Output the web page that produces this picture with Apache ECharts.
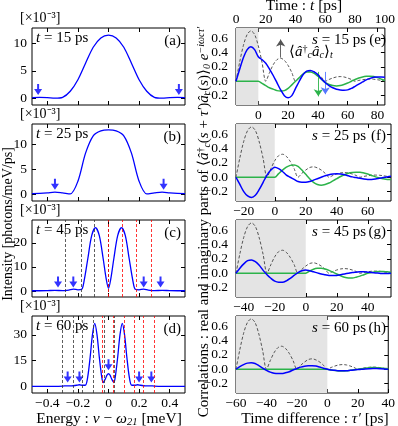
<!DOCTYPE html>
<html>
<head>
<meta charset="utf-8">
<script src="https://cdn.jsdelivr.net/npm/echarts@6/dist/echarts.min.js"></script>
<style>
  html, body { margin: 0; padding: 0; background: #fff; }
  #chart { width: 398px; height: 426px; }
</style>
</head>
<body>
<div id="chart"></div>
<script>
// ---------- spectra (left column), energy in meV, intensity in 1e-3 photons/meV/ps ----------
var energyA = [-0.5, -0.45, -0.4, -0.35, -0.3, -0.25, -0.2, -0.15, -0.1, -0.05, 0, 0.05, 0.1, 0.15, 0.2, 0.25, 0.3, 0.35, 0.4, 0.45, 0.5];
var intensA = [0.15, 0.2, 0.15, 0.05, 0.2, 1.3, 3.4, 6.4, 9.3, 11.0, 11.5, 11.0, 9.3, 6.4, 3.4, 1.3, 0.2, 0.05, 0.15, 0.2, 0.15];

var energyB = [-0.5, -0.45, -0.4, -0.35, -0.3, -0.25, -0.2, -0.15, -0.1, -0.05, 0, 0.05, 0.1, 0.15, 0.2, 0.25, 0.3, 0.35, 0.4, 0.45, 0.5];
var intensB = [0.1, 0.15, 0.25, 0.4, 0.25, 0.05, 2.6, 8.3, 11.8, 12.8, 13.0, 12.8, 11.8, 8.3, 2.6, 0.05, 0.25, 0.4, 0.25, 0.15, 0.1];

var energyC = [-0.5, -0.45, -0.4, -0.35, -0.3, -0.26, -0.23, -0.2, -0.175, -0.16, -0.135, -0.11, -0.085, -0.06, -0.035, -0.015, 0,
               0.015, 0.035, 0.06, 0.085, 0.11, 0.135, 0.16, 0.175, 0.2, 0.23, 0.26, 0.3, 0.35, 0.4, 0.45, 0.5];
var intensC = [0.1, 0.1, 0.15, 0.25, 0.15, 0.4, 0.8, 0.5, 0.7, 4, 13.5, 23, 26.3, 23, 13.5, 5, 1.1,
               5, 13.5, 23, 26.3, 23, 13.5, 4, 0.7, 0.5, 0.8, 0.4, 0.15, 0.25, 0.15, 0.1, 0.1];

var energyD = [-0.5, -0.45, -0.4, -0.35, -0.3, -0.27, -0.24, -0.21, -0.19, -0.17, -0.15, -0.135, -0.12, -0.105, -0.09, -0.075, -0.06, -0.045, -0.035, -0.02, -0.01, 0,
               0.01, 0.02, 0.035, 0.045, 0.06, 0.075, 0.09, 0.105, 0.12, 0.135, 0.15, 0.17, 0.19, 0.21, 0.24, 0.27, 0.3, 0.35, 0.4, 0.45, 0.5];
var intensD = [0.1, 0.1, 0.1, 0.1, 0.2, 0.4, 0.3, 0.7, 1.0, 0.7, 0.8, 6, 17, 30, 36.7, 30, 17, 6, 2.3, 4.5, 6.6, 7.4,
               6.6, 4.5, 2.3, 6, 17, 30, 36.7, 30, 17, 6, 0.8, 0.7, 1.0, 0.7, 0.3, 0.4, 0.2, 0.1, 0.1, 0.1, 0.1];

// dashed reference lines in (c) and (d)
var blackLinesC = [-0.275, -0.182, -0.09, 0.004];
var redLinesC = [-0.004, 0.09, 0.182, 0.275];
var blackLinesD = [-0.3, -0.235, -0.165, -0.095, -0.025, 0.045];
var redLinesD = [-0.045, 0.025, 0.095, 0.165, 0.235, 0.3];

// arrow tips [energy, intensity]
var arrowsA = [[-0.46, 0.6], [0.46, 0.6]];
var arrowsB = [[-0.35, 0.9], [0.36, 0.9]];
var arrowsC = [[-0.33, 1.5], [-0.23, 1.5], [0.23, 1.5], [0.34, 1.5]];
var arrowsD = [[-0.267, 2.3], [-0.19, 2.3], [0, 9.5], [0.2, 2.3], [0.28, 2.3]];

var spectrumTimes = [15, 25, 45, 60];
var spectrumTicks = [[0, 5, 10], [0, 5, 10], [0, 10, 20], [0, 15, 30]];
var spectrumRange = [[-1.2, 12.8], [-1.4, 14.2], [-2.5, 29.5], [-3.8, 41]];
var energyTicks = [-0.4, -0.2, 0, 0.2, 0.4];

// ---------- correlations (right column), sampled on absolute time t [ps] ----------
var tGrid = [0, 2.5, 5, 7.5, 10, 12.5, 15, 17.5, 20, 22.5, 25, 27.5, 30, 32.5, 35, 37.5, 40, 42.5, 45, 47.5, 50,
             52.5, 55, 57.5, 60, 62.5, 65, 67.5, 70, 72.5, 75, 77.5, 80, 82.5, 85, 87.5, 90, 92.5, 95, 97.5, 100];
var population = [0, 0.27, 0.5, 0.65, 0.7, 0.65, 0.49, 0.26, 0, 0.12, 0.23, 0.3, 0.32, 0.29, 0.22, 0.12, 0, 0.055, 0.1, 0.135, 0.145,
                  0.13, 0.1, 0.055, 0, 0.025, 0.045, 0.06, 0.065, 0.06, 0.045, 0.025, 0, 0.012, 0.021, 0.028, 0.03, 0.028, 0.021, 0.012, 0];

var realE = [0, 0.17, 0.33, 0.44, 0.48, 0.44, 0.34, 0.3, 0.25, 0.17, 0.08, -0.02, -0.12, -0.2, -0.23, -0.2, -0.1, 0, 0.09, 0.14, 0.15,
             0.13, 0.09, 0.03, -0.02, -0.06, -0.09, -0.11, -0.12, -0.125, -0.12, -0.1, -0.07, -0.04, -0.01, 0.02, 0.04, 0.055, 0.06, 0.06, 0.055];
var imagE = [0, 0, 0, 0, 0, 0, 0, -0.03, -0.06, -0.09, -0.11, -0.13, -0.135, -0.13, -0.1, -0.05, 0, 0.05, 0.1, 0.13, 0.13,
             0.11, 0.07, 0.025, -0.02, -0.045, -0.06, -0.065, -0.06, -0.045, -0.025, 0, 0.025, 0.045, 0.06, 0.068, 0.07, 0.065, 0.05, 0.03, 0.01];

var realF = [0, -0.1, -0.2, -0.26, -0.28, -0.25, -0.17, -0.07, 0.03, 0.1, 0.14, 0.12, 0.08, 0.03, 0, -0.03, -0.06, -0.07, -0.07, -0.06, -0.04,
             -0.02, 0, 0.02, 0.035, 0.045, 0.05, 0.045, 0.035, 0.02, 0.005, -0.005, -0.015, -0.025, -0.03, -0.03, -0.025, -0.015, -0.005, 0.005, 0.015];
var imagF = [0, 0, 0, 0, 0, 0, 0, 0, 0, 0, 0, 0.05, 0.1, 0.14, 0.165, 0.17, 0.15, 0.1, 0.04, -0.02, -0.07,
             -0.1, -0.11, -0.1, -0.08, -0.05, -0.02, 0.01, 0.035, 0.055, 0.065, 0.07, 0.07, 0.06, 0.045, 0.025, 0.005, -0.01, -0.02, -0.03, -0.03];

var realG = [0, 0.07, 0.13, 0.175, 0.185, 0.16, 0.11, 0.04, -0.02, -0.07, -0.11, -0.125, -0.125, -0.105, -0.07, -0.03, 0.01, 0.035, 0.045, 0.035, 0.02,
             0.005, -0.01, -0.02, -0.03, -0.03, -0.03, -0.02, -0.01, 0, 0.01, 0.015, 0.02, 0.02, 0.015, 0.01, 0.005, 0, -0.005, -0.005, 0];
var imagG = [0, 0, 0, 0, 0, 0, 0, 0, 0, 0, 0, 0, 0, 0, 0, 0, 0, 0, 0, 0.03, 0.055,
             0.068, 0.07, 0.06, 0.04, 0.015, -0.01, -0.035, -0.055, -0.065, -0.065, -0.055, -0.04, -0.02, 0, 0.01, 0.02, 0.025, 0.025, 0.02, 0.015];

var realH = [0, 0.035, 0.065, 0.085, 0.09, 0.08, 0.05, 0.015, -0.015, -0.04, -0.055, -0.06, -0.06, -0.05, -0.035, -0.01, 0.01, 0.03, 0.042, 0.048, 0.05,
             0.045, 0.03, 0.015, 0, -0.01, -0.015, -0.02, -0.02, -0.02, -0.015, -0.01, -0.005, 0, 0.005, 0.008, 0.01, 0.01, 0.008, 0.005, 0];
var imagH = [0, 0, 0, 0, 0, 0, 0, 0, 0, 0, 0, 0, 0, 0, 0, 0, 0, 0, 0, 0, 0,
             0, 0, 0, 0, -0.01, -0.018, -0.024, -0.025, -0.022, -0.015, -0.007, 0, 0.008, 0.015, 0.02, 0.023, 0.022, 0.018, 0.012, 0.006];

var delays = [15, 25, 45, 60];   // s [ps]
var corrTicks = [[0, 20, 40, 60, 80], [-20, 0, 20, 40, 60], [-40, -20, 0, 20, 40], [-60, -40, -20, 0, 20, 40]];
var corrYTicks = [-0.2, 0, 0.2, 0.4, 0.6];
var timeTicks = [0, 20, 40, 60, 80, 100];

// ---------- layout ----------
var FONT = 'Liberation Serif';
var tops = [28, 124, 220, 316];
var H = 77;
var LEFT_X = 32, LEFT_W = 153;
var RIGHT_X = 236, RIGHT_W = 155;
var BLUE = '#0000ff', GREEN = '#2cb34a';

function minus(v, digits) {
  var s = digits ? Math.abs(v).toFixed(digits) : String(Math.abs(v));
  return (v < 0 ? '\u2212' : '') + s;
}

var grids = [], xAxes = [], yAxes = [], series = [], graphic = [];

function addPanel(left, width, top, xr, xt, xLabels, yr, yt, yDigits, yMargin) {
  var g = grids.length;
  grids.push({ left: left, top: top, width: width, height: H, show: true, borderColor: '#000', borderWidth: 1, containLabel: false });
  ['bottom', 'top'].forEach(function (pos) {
    xAxes.push({
      type: 'value', gridIndex: g, position: pos, min: xr[0], max: xr[1],
      axisLine: { show: false, onZero: false }, splitLine: { show: false },
      axisTick: { inside: true, length: 4, customValues: xt, lineStyle: { color: '#000', width: 1 } },
      axisLabel: { show: pos === 'bottom' && xLabels, customValues: xt, margin: 3, color: '#000', fontFamily: FONT, fontSize: 13.5,
        formatter: function (v) { return minus(v); } }
    });
  });
  ['left', 'right'].forEach(function (pos) {
    yAxes.push({
      type: 'value', gridIndex: g, position: pos, min: yr[0], max: yr[1],
      axisLine: { show: false, onZero: false }, splitLine: { show: false },
      axisTick: { inside: true, length: 4, customValues: yt, lineStyle: { color: '#000', width: 1 } },
      axisLabel: { show: pos === 'left', customValues: yt, margin: yMargin, color: '#000', fontFamily: FONT, fontSize: 13.5,
        formatter: function (v) { return minus(v, yDigits); } }
    });
  });
  return g;
}

var spectra = [[energyA, intensA], [energyB, intensB], [energyC, intensC], [energyD, intensD]];
var arrows = [arrowsA, arrowsB, arrowsC, arrowsD];
var letters = ['(a)', '(b)', '(c)', '(d)', '(e)', '(f)', '(g)', '(h)'];
var arrowPath = 'path://M3,0 L5,0 L5,5 L8,5 L4,11 L0,5 L3,5 Z';

spectra.forEach(function (sp, i) {
  var g = addPanel(LEFT_X, LEFT_W, tops[i], [-0.5, 0.5], energyTicks, i === 3, spectrumRange[i], spectrumTicks[i], 0, 5);
  var s = {
    type: 'line', xAxisIndex: 2 * g, yAxisIndex: 2 * g, z: 3,
    data: sp[0].map(function (e, k) { return [e, sp[1][k]]; }),
    smooth: 0.3, symbol: 'none', silent: true,
    lineStyle: { color: BLUE, width: 1.3 }
  };
  if (i >= 2) {
    var bl = i === 2 ? blackLinesC : blackLinesD;
    var rl = i === 2 ? redLinesC : redLinesD;
    s.markLine = {
      symbol: ['none', 'none'], silent: true, label: { show: false }, animation: false,
      data: bl.map(function (x) { return { xAxis: x, lineStyle: { color: '#333', type: [3, 2], width: 0.8 } }; })
        .concat(rl.map(function (x) { return { xAxis: x, lineStyle: { color: '#ff0000', type: [3, 2], width: 0.8 } }; }))
    };
  }
  series.push(s);
  series.push({
    type: 'scatter', xAxisIndex: 2 * g, yAxisIndex: 2 * g, z: 4, silent: true,
    data: arrows[i], symbol: arrowPath, symbolSize: [8, 11], symbolOffset: [0, '-50%'],
    itemStyle: { color: BLUE }
  });
  graphic.push({ type: 'text', z: 50, x: 36, y: tops[i] + 10, style: { text: '{i|t} = ' + spectrumTimes[i] + ' ps', rich: { i: { fontStyle: 'italic', fontFamily: FONT, fontSize: 15 } }, fontFamily: FONT, fontSize: 15, fill: '#000', verticalAlign: 'middle' } });
  graphic.push({ type: 'text', z: 50, x: 181, y: tops[i] + 13, style: { text: letters[i], fontFamily: FONT, fontSize: 15, fill: '#000', align: 'right', verticalAlign: 'middle' } });
  graphic.push({ type: 'text', z: 50, x: 20, y: tops[i] - 10, style: { text: '[\u00d710\u207b\u00b3]', fontFamily: FONT, fontSize: 14, fill: '#000', verticalAlign: 'middle' } });
});

var corr = [[realE, imagE], [realF, imagF], [realG, imagG], [realH, imagH]];
corr.forEach(function (c, i) {
  var s0 = delays[i];
  var g = addPanel(RIGHT_X, RIGHT_W, tops[i], [-s0, 100 - s0], corrTicks[i], true, [-0.33, 0.74], corrYTicks, 1, 8);
  function pts(arr) { return tGrid.map(function (t, k) { return [t - s0, arr[k]]; }); }
  // shaded region tau' < 0
  series.push({
    type: 'line', xAxisIndex: 2 * g, yAxisIndex: 2 * g, z: 1, data: [], silent: true,
    markArea: { silent: true, itemStyle: { color: '#e4e4e4' }, data: [[{ xAxis: -s0 }, { xAxis: 0 }]] }
  });
  series.push({ type: 'line', xAxisIndex: 2 * g, yAxisIndex: 2 * g, z: 3, data: pts(population), smooth: 0.3, symbol: 'none', silent: true,
    lineStyle: { color: '#444', width: 0.9, type: [3, 2] } });
  var green = { type: 'line', xAxisIndex: 2 * g, yAxisIndex: 2 * g, z: 4, data: pts(c[1]), smooth: 0.3, symbol: 'none', silent: true,
    lineStyle: { color: GREEN, width: 1.5 } };
  var blue = { type: 'line', xAxisIndex: 2 * g, yAxisIndex: 2 * g, z: 5, data: pts(c[0]), smooth: 0.3, symbol: 'none', silent: true,
    lineStyle: { color: BLUE, width: 1.5 } };
  if (i === 0) {
    green.markLine = { symbol: ['none', 'arrow'], symbolSize: 7, silent: true, label: { show: false }, animation: false,
      lineStyle: { color: GREEN, type: 'solid', width: 0.9 },
      data: [[{ coord: [40.3, 0.13] }, { coord: [40.3, -0.21] }]] };
    blue.markLine = { symbol: ['none', 'arrow'], symbolSize: 7, silent: true, label: { show: false }, animation: false,
      lineStyle: { color: '#5577ff', type: 'solid', width: 0.9 },
      data: [[{ coord: [45, 0.13] }, { coord: [45, -0.18] }]] };
    series[series.length - 1].markLine = { symbol: ['none', 'arrow'], symbolSize: 7, silent: true, label: { show: false }, animation: false,
      lineStyle: { color: '#555', type: 'solid', width: 0.9 },
      data: [[{ coord: [15, 0.33] }, { coord: [15, 0.58] }]] };
  }
  series.push(green, blue);
  graphic.push({ type: 'text', z: 50, x: 366, y: tops[i] + 12, style: { text: '{i|s} = ' + s0 + ' ps', rich: { i: { fontStyle: 'italic', fontFamily: FONT, fontSize: 15 } }, fontFamily: FONT, fontSize: 15, fill: '#000', align: 'right', verticalAlign: 'middle' } });
  graphic.push({ type: 'text', z: 50, x: 386, y: tops[i] + 12, style: { text: letters[4 + i], fontFamily: FONT, fontSize: 15, fill: '#000', align: 'right', verticalAlign: 'middle' } });
});

// top time axis of panel (e)
xAxes.push({
  type: 'value', gridIndex: 4, position: 'top', min: 0, max: 100, offset: 0,
  axisLine: { show: false, onZero: false }, splitLine: { show: false }, axisTick: { show: false },
  axisLabel: { customValues: timeTicks, margin: 2, color: '#000', fontFamily: FONT, fontSize: 13.5 }
});

var rich = {
  n: { fontFamily: FONT, fontSize: 15 },
  i: { fontFamily: FONT, fontSize: 15, fontStyle: 'italic' },
  sb: { fontFamily: FONT, fontSize: 10, fontStyle: 'italic', verticalAlign: 'bottom', padding: [6, 0, 0, 0] },
  sp: { fontFamily: FONT, fontSize: 10, verticalAlign: 'top', padding: [0, 0, 6, 0] },
  spi: { fontFamily: FONT, fontSize: 10, fontStyle: 'italic', verticalAlign: 'top', padding: [0, 0, 6, 0] }
};
// axis titles are set a little larger
var richBig = {
  n: { fontFamily: FONT, fontSize: 15.5 },
  i: { fontFamily: FONT, fontSize: 15.5, fontStyle: 'italic' },
  sb: { fontFamily: FONT, fontSize: 10.5, fontStyle: 'italic', verticalAlign: 'bottom', padding: [6, 0, 0, 0] }
};

graphic.push(
  { type: 'text', z: 50, x: 304, y: 6, style: { text: '{n|Time : }{i|t}{n| [ps]}', rich: richBig, align: 'center', verticalAlign: 'middle', fill: '#000' } },
  { type: 'text', z: 50, x: 109, y: 419, style: { text: '{n|Energy : }{i|\u03bd}{n| \u2212 }{i|\u03c9}{sb|21}{n| [meV]}', rich: richBig, align: 'center', verticalAlign: 'middle', fill: '#000' } },
  { type: 'text', z: 50, x: 315, y: 419, style: { text: '{n|Time difference : }{i|\u03c4\u2032}{n| [ps]}', rich: richBig, align: 'center', verticalAlign: 'middle', fill: '#000' } },
  { type: 'text', z: 50, x: 8, y: 224, rotation: Math.PI / 2, style: { text: 'Intensity [photons/meV/ps]', fontFamily: FONT, fontSize: 14, align: 'center', verticalAlign: 'middle', fill: '#000' } },
  { type: 'text', z: 50, x: 204, y: 222, rotation: Math.PI / 2, style: {
      text: '{n|Correlations : real and imaginary parts of \u27e8}{i|\u00e2}{sp|\u2020}{sb|c}{n|(}{i|s}{n| + }{i|\u03c4\u2032}{n|)}{i|\u00e2}{sb|c}{n|(}{i|s}{n|)\u27e9}{sb|0}{n| }{i|e}{spi|\u2212i\u03c9c\u03c4\u2032}',
      rich: rich, align: 'center', verticalAlign: 'middle', fill: '#000' } },
  { type: 'text', z: 50, x: 289, y: 52, style: { text: '{n|\u27e8}{i|\u00e2}{sp|\u2020}{sb|c}{i|\u00e2}{sb|c}{n|\u27e9}{sb|t}', rich: rich, verticalAlign: 'middle', fill: '#000' } }
);

var chart = echarts.init(document.getElementById('chart'));
chart.setOption({
  animation: false,
  backgroundColor: '#fff',
  grid: grids,
  xAxis: xAxes,
  yAxis: yAxes,
  series: series,
  graphic: graphic
});
</script>
</body>
</html>
